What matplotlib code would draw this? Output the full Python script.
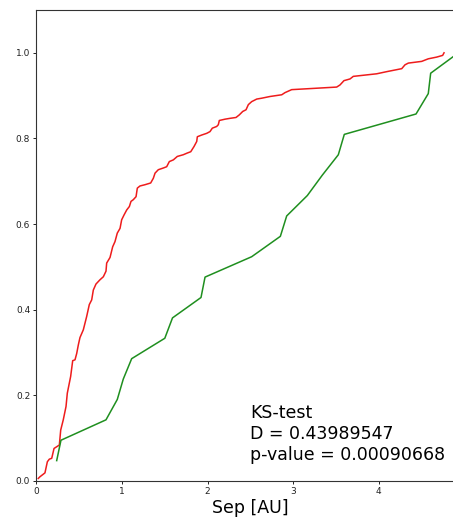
import matplotlib
matplotlib.use("Agg")
import matplotlib.pyplot as plt

# Cumulative distribution of separations, sample 1 (red)
red_sep = [0.022, 0.042, 0.081, 0.100, 0.128, 0.151, 0.179, 0.206, 0.237, 0.268,
           0.284, 0.314, 0.346, 0.361, 0.384, 0.400, 0.424, 0.451, 0.471, 0.490,
           0.509, 0.548, 0.587, 0.618, 0.646, 0.665, 0.696, 0.743, 0.782, 0.813,
           0.821, 0.860, 0.891, 0.918, 0.945, 0.977, 0.996, 1.023, 1.055, 1.086,
           1.105, 1.132, 1.164, 1.179, 1.210, 1.269, 1.335, 1.366, 1.386, 1.424,
           1.483, 1.522, 1.553, 1.600, 1.646, 1.716, 1.763, 1.803, 1.841, 1.873,
           1.880, 1.931, 1.990, 2.028, 2.055, 2.106, 2.125, 2.137, 2.203, 2.262,
           2.332, 2.370, 2.410, 2.449, 2.476, 2.515, 2.574, 2.632, 2.729, 2.866,
           2.904, 2.982, 3.158, 3.508, 3.547, 3.593, 3.664, 3.702, 3.975, 4.092,
           4.268, 4.306, 4.345, 4.501, 4.578, 4.676, 4.746, 4.762]
red_cdf = [0.006, 0.010, 0.016, 0.019, 0.045, 0.051, 0.053, 0.076, 0.080, 0.084,
           0.119, 0.143, 0.174, 0.205, 0.228, 0.244, 0.281, 0.283, 0.298, 0.318,
           0.335, 0.353, 0.384, 0.412, 0.423, 0.446, 0.460, 0.470, 0.477, 0.490,
           0.509, 0.522, 0.547, 0.559, 0.579, 0.590, 0.610, 0.621, 0.633, 0.641,
           0.653, 0.657, 0.664, 0.684, 0.689, 0.692, 0.696, 0.707, 0.719, 0.727,
           0.731, 0.734, 0.746, 0.750, 0.758, 0.762, 0.766, 0.769, 0.781, 0.793,
           0.804, 0.808, 0.812, 0.816, 0.824, 0.828, 0.832, 0.842, 0.845, 0.847,
           0.849, 0.855, 0.863, 0.867, 0.879, 0.886, 0.892, 0.894, 0.898, 0.902,
           0.907, 0.914, 0.916, 0.920, 0.925, 0.935, 0.939, 0.945, 0.951, 0.956,
           0.963, 0.972, 0.976, 0.980, 0.986, 0.990, 0.994, 1.000]

# Cumulative distribution of separations, sample 2 (green, 21 objects)
green_sep = [0.237, 0.287, 0.813, 0.945, 1.015, 1.113, 1.500, 1.590, 1.923, 1.970,
             2.515, 2.850, 2.924, 3.165, 3.340, 3.527, 3.597, 4.435, 4.578, 4.606,
             4.930]
green_cdf = [1/21, 2/21, 3/21, 4/21, 5/21, 6/21, 7/21, 8/21, 9/21, 10/21,
             11/21, 12/21, 13/21, 14/21, 15/21, 16/21, 17/21, 18/21, 19/21, 20/21,
             21/21]

ks_lines = ["KS-test", "D = 0.43989547", "p-value = 0.00090668"]

fig = plt.figure(figsize=(4.53, 5.17), dpi=100)
ax = fig.add_axes([36.4 / 453, 36 / 517, 428 / 453, 471 / 517])

ax.plot(red_sep, red_cdf, color="#ee1c1c", lw=1.1)
ax.plot(green_sep, green_cdf, color="#1f8f1f", lw=1.1)

ax.set_xlim(0, 5)
ax.set_ylim(0, 1.1)
ax.set_xticks([0, 1, 2, 3, 4])
ax.set_yticks([0.0, 0.2, 0.4, 0.6, 0.8, 1.0])
ax.tick_params(labelsize=6.5, length=2.5, width=0.7, pad=2, colors="#222222")
for s in ax.spines.values():
    s.set_color("#333333")
    s.set_linewidth(0.8)

ax.set_xlabel("Sep [AU]", fontsize=12.5, labelpad=2)
ax.text(2.5, 0.04, "\n".join(ks_lines), fontsize=12.5, ha="left", va="bottom",
        linespacing=1.2)

fig.savefig("out.png", dpi=100)
